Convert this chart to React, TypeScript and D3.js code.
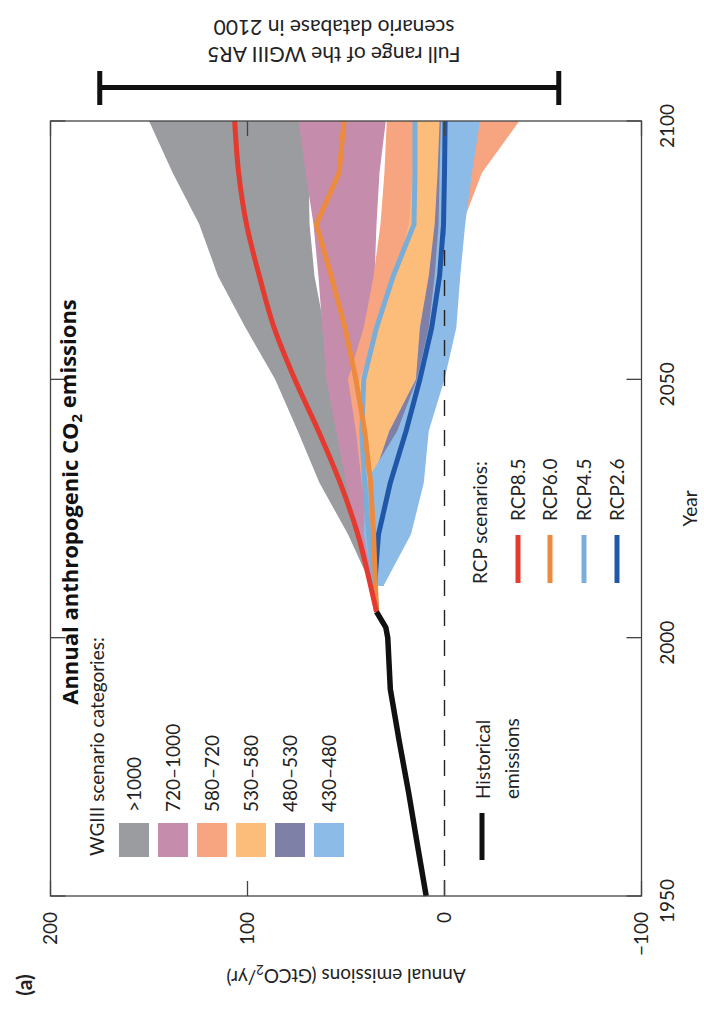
import React from 'react';
import * as d3 from 'd3';

// ---------- data ----------
const yearTicks = [1950, 2000, 2050, 2100];
const emissionTicks = [200, 100, 0, -100];

const histYears = [1950, 1960, 1970, 1980, 1990, 2000, 2002, 2005];
const histValues = [9.3, 13.8, 18.2, 23, 27.5, 28.8, 29.8, 34.5];

const rcpYears = [2005, 2010, 2020, 2030, 2040, 2050, 2060, 2070, 2080, 2090, 2100];
const rcp85 = [34.5, 37.5, 44, 53, 64, 76, 86.5, 94, 100.5, 104.5, 106.5];
const rcp60 = [34.5, 35, 36, 37.5, 40.5, 45, 50.5, 57.5, 65, 53.5, 51];
const rcp45 = [34.5, 35.5, 38.5, 40.5, 42, 41, 34.5, 26, 15.5, 15, 15];
const rcp26 = [34.5, 35.5, 33.5, 27.5, 19.5, 12.5, 6.5, 2.5, 0.5, 0, -0.3];

const bandYears = [2010, 2020, 2030, 2040, 2050, 2060, 2070, 2080, 2090, 2100];
const catOver1000Hi = [37, 49, 63.5, 74.5, 86, 101, 115, 124.5, 138, 150];
const catOver1000Lo = [33, 35, 40, 47, 55, 61, 66, 68.5, 69, 70];
const cat720Hi = [37, 44, 50, 55, 60, 62, 64, 66.5, 70.5, 74];
const cat720Lo = [33, 35, 37, 40, 41, 38, 35.5, 34.5, 33, 29.8];
const cat580Hi = [35, 38, 42, 45, 49, 41, 36, 32.5, 30.5, 29.3];
const cat580Lo = [32, 27, 20, 12, 4, -1, -5, -9, -19, -38];
const cat530Hi = [35, 38, 41, 43, 43, 33.5, 25, 18, 16, 15];
const cat530Lo = [32, 27, 20, 12, 5, 0, -3, -6, -8, -10];
const cat480Hi = [35, 36.5, 37, 28, 14.5, 12.5, 8, 5, 3.5, 2.5];
const cat480Lo = [31, 24, 17, 10, 3, -2, -5, -7, -9, -11];
const cat430Hi = [36, 41, 40, 24, 14, 8, 5, 3, 2.5, 1.8];
const cat430Lo = [31, 17, 10.5, 8, 0, -6, -8, -10.5, -14, -18];

const categoryLabels = ['>1000', '720–1000', '580–720', '530–580', '480–530', '430–480'];
const rcpLabels = ['RCP8.5', 'RCP6.0', 'RCP4.5', 'RCP2.6'];
const fullRange2100 = [175, -58];

// ---------- styles ----------
const catColors = ['#9b9c9f', '#c68cab', '#f7a480', '#fcbd7a', '#7f80a8', '#8dbbe7'];
const rcpColors = ['#e43a2f', '#ec8a3e', '#7aaed9', '#2157a8'];
const FONT = "Lato, 'Open Sans', sans-serif";
const TITLE_FONT = "'Open Sans', Lato, sans-serif";

const W = 704;
const H = 1010;
const plot = { left: 50.5, right: 641.5, top: 121, bottom: 896 };

export default function App() {
  const yS = d3.scaleLinear().domain([1950, 2100]).range([plot.bottom, plot.top]);
  const xS = d3.scaleLinear().domain([200, -100]).range([plot.left, plot.right]);

  const bands = [
    [catOver1000Hi, catOver1000Lo],
    [cat720Hi, cat720Lo],
    [cat580Hi, cat580Lo],
    [cat530Hi, cat530Lo],
    [cat480Hi, cat480Lo],
    [cat430Hi, cat430Lo],
  ];

  const bandPath = (hi: number[], lo: number[]) =>
    d3
      .area<number>()
      .y((_, i) => yS(bandYears[i]))
      .x0((_, i) => xS(hi[i]))
      .x1((_, i) => xS(lo[i]))
      .curve(d3.curveLinear)(hi) as string;

  const linePath = (years: number[], vals: number[], curve: any) =>
    d3
      .line<number>()
      .y((_, i) => yS(years[i]))
      .x((v) => xS(v))
      .curve(curve)(vals) as string;

  const rcps = [rcp85, rcp60, rcp45, rcp26];
  const tickLen = 15;

  const rotText = (
    x: number,
    y: number,
    txt: React.ReactNode,
    opts: { anchor?: string; size?: number; weight?: string; rot?: number; family?: string } = {}
  ) => (
    <text
      transform={`translate(${x},${y}) rotate(${opts.rot ?? -90})`}
      textAnchor={opts.anchor ?? 'middle'}
      dy="0.35em"
      fontSize={opts.size ?? 19}
      fontWeight={opts.weight ?? 'normal'}
      fontFamily={opts.family ?? FONT}
      fill="#222"
    >
      {txt}
    </text>
  );

  const swX = [134, 173, 212, 251, 290, 329];
  const rcpLegX = [518, 550, 584, 617];

  return (
    <svg
      width={W}
      height={H}
      viewBox={`0 0 ${W} ${H}`}
      style={{ position: 'absolute', left: 0, top: 0, background: '#fff' }}
    >
      <rect x={0} y={0} width={W} height={H} fill="#fff" />

      {/* bands */}
      {bands.map(([hi, lo], k) => (
        <path key={k} d={bandPath(hi, lo)} fill={catColors[k]} stroke="none" />
      ))}

      {/* zero line */}
      <line
        x1={xS(0)}
        x2={xS(0)}
        y1={plot.bottom}
        y2={plot.top}
        stroke="#222"
        strokeWidth={1.4}
        strokeDasharray="16,14"
      />

      {/* RCP lines */}
      {[3, 2, 1, 0].map((k) => (
        <path
          key={k}
          d={linePath(rcpYears, rcps[k], k === 0 ? d3.curveMonotoneY : d3.curveLinear)}
          fill="none"
          stroke={rcpColors[k]}
          strokeWidth={5}
          strokeLinejoin="round"
        />
      ))}

      {/* historical */}
      <path
        d={linePath(histYears, histValues, d3.curveLinear)}
        fill="none"
        stroke="#111"
        strokeWidth={5.5}
        strokeLinejoin="round"
      />

      {/* frame */}
      <rect
        x={plot.left}
        y={plot.top}
        width={plot.right - plot.left}
        height={plot.bottom - plot.top}
        fill="none"
        stroke="#444"
        strokeWidth={1.3}
      />

      {/* ticks */}
      {yearTicks.map((t) => (
        <g key={'yt' + t}>
          <line x1={plot.right} x2={plot.right - tickLen} y1={yS(t)} y2={yS(t)} stroke="#444" strokeWidth={1.3} />
          <line x1={plot.left} x2={plot.left + tickLen} y1={yS(t)} y2={yS(t)} stroke="#444" strokeWidth={1.3} />
        </g>
      ))}
      {emissionTicks.map((t) => (
        <g key={'et' + t}>
          <line x1={xS(t)} x2={xS(t)} y1={plot.bottom} y2={plot.bottom - tickLen} stroke="#444" strokeWidth={1.3} />
          <line x1={xS(t)} x2={xS(t)} y1={plot.top} y2={plot.top + tickLen} stroke="#444" strokeWidth={1.3} />
        </g>
      ))}

      {/* tick labels */}
      {yearTicks.map((t) => (
        <g key={'yl' + t}>{rotText(667, yS(t) + 5, String(t))}</g>
      ))}
      {emissionTicks.map((t) => (
        <g key={'el' + t}>
          {rotText(xS(t), 912, t < 0 ? '−' + Math.abs(t) : String(t), { anchor: 'end' })}
        </g>
      ))}

      {/* axis titles */}
      {rotText(690, (plot.top + plot.bottom) / 2, 'Year')}
      <text
        transform={`translate(${xS(50)},976) rotate(180)`}
        textAnchor="middle"
        dy="0.35em"
        fontSize={19}
        fontFamily={FONT}
        fill="#222"
      >
        Annual emissions (GtCO
        <tspan fontSize={13} dy="0.3em">2</tspan>
        <tspan dy="-0.3em">/yr)</tspan>
      </text>
      {rotText(25, 985, '(a)', { size: 21, weight: 'bold' })}

      {/* title */}
      <text
        transform={`translate(70,502) rotate(-90)`}
        textAnchor="middle"
        dy="0.35em"
        fontSize={22}
        fontWeight="bold"
        fontFamily={TITLE_FONT}
        fill="#111"
      >
        Annual anthropogenic CO
        <tspan fontSize={15} dy="0.3em">2</tspan>
        <tspan dy="-0.3em"> emissions</tspan>
      </text>

      {/* WGIII legend */}
      {rotText(97, 856, 'WGIII scenario categories:', { anchor: 'start' })}
      {categoryLabels.map((lab, k) => (
        <g key={'cl' + k}>
          <rect x={swX[k] - 15} y={823} width={30} height={34} fill={catColors[k]} />
          {rotText(swX[k], 812, lab, { anchor: 'start' })}
        </g>
      ))}

      {/* Historical legend */}
      <line x1={482} x2={482} y1={813} y2={860} stroke="#111" strokeWidth={5} />
      {rotText(483, 799, 'Historical', { anchor: 'start' })}
      {rotText(512, 799, 'emissions', { anchor: 'start' })}

      {/* RCP legend */}
      {rotText(480, 584, 'RCP scenarios:', { anchor: 'start' })}
      {rcpLabels.map((lab, k) => (
        <g key={'rl' + k}>
          <line x1={rcpLegX[k]} x2={rcpLegX[k]} y1={535} y2={583} stroke={rcpColors[k]} strokeWidth={5} />
          {rotText(rcpLegX[k], 521, lab, { anchor: 'start' })}
        </g>
      ))}

      {/* full range bar */}
      <line x1={xS(fullRange2100[0])} x2={xS(fullRange2100[1])} y1={87.5} y2={87.5} stroke="#111" strokeWidth={5} />
      <line x1={xS(fullRange2100[0])} x2={xS(fullRange2100[0])} y1={71} y2={105} stroke="#111" strokeWidth={5} />
      <line x1={xS(fullRange2100[1])} x2={xS(fullRange2100[1])} y1={71} y2={105} stroke="#111" strokeWidth={5} />
      <g transform="translate(334,54) rotate(180)">
        <text textAnchor="middle" dy="0.35em" fontSize={21} fontFamily={FONT} fill="#222">
          Full range of the WGIII AR5
        </text>
        <text textAnchor="middle" y={27} dy="0.35em" fontSize={21} fontFamily={FONT} fill="#222">
          scenario database in 2100
        </text>
      </g>
    </svg>
  );
}
